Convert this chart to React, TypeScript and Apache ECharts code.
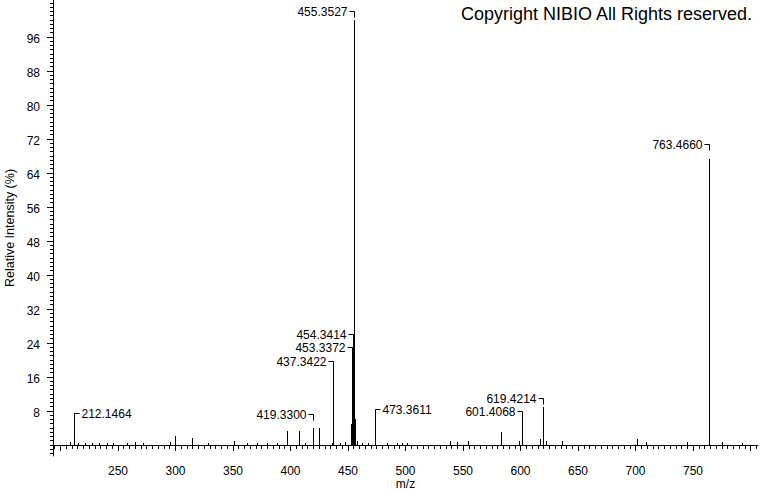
import { useEffect, useRef } from 'react';
import * as echarts from 'echarts';

// ---- Data ----
const peakMz = [
  208.3, 212.1464, 215.5, 221.3, 227.1, 233.7, 240.2, 245.9, 257.5, 264.8,
  272.0, 295.2, 299.6, 314.6, 328.5, 351.1, 361.9, 370.6, 379.3, 388.0,
  397.2, 407.7, 412.6, 419.33, 425.0, 435.8, 437.3422, 443.0, 447.4, 452.3,
  453.3372, 454.3414, 455.3527, 456.36, 457.4, 462.0, 467.7, 473.3611, 483.6, 492.3,
  496.7, 501.0, 538.7, 545.0, 554.6, 583.0, 598.7, 601.4068, 617.0, 619.4214,
  621.9, 635.8, 701.6, 709.5, 745.0, 763.466, 775.5, 792.6,
];
const peakIntensity = [
  0.6, 6.5, 0.4, 0.5, 0.5, 0.5, 0.5, 0.4, 0.4, 0.8,
  0.4, 0.7, 2.1, 1.7, 0.4, 0.9, 0.4, 0.5, 0.5, 0.5,
  3.4, 3.3, 0.4, 4.1, 4.1, 0.5, 18.6, 0.5, 0.7, 5.0,
  21.6, 24.8, 100, 6.0, 1.0, 0.4, 0.4, 7.0, 0.4, 0.5,
  0.5, 0.5, 1.0, 0.7, 0.9, 3.0, 1.0, 6.6, 1.5, 9.0,
  1.0, 1.0, 1.4, 0.8, 0.8, 67.2, 0.7, 0.5,
];
const labelledMz = [212.1464, 419.33, 437.3422, 453.3372, 454.3414, 455.3527, 473.3611, 601.4068, 619.4214, 763.466];
const labelTexts = ['212.1464', '419.3300', '437.3422', '453.3372', '454.3414', '455.3527', '473.3611', '601.4068', '619.4214', '763.4660'];
const xTickLabels = [250, 300, 350, 400, 450, 500, 550, 600, 650, 700, 750];
const yTickLabels = [8, 16, 24, 32, 40, 48, 56, 64, 72, 80, 88, 96];

// ---- Layout (label placement, in intensity units; +1 = text right of peak) ----
const labelLevel = [7.5, 7.3, 19.8, 23.1, 26.2, 102.1, 8.35, 8.0, 10.95, 70.8];
const labelSide = [1, -1, -1, -1, -1, -1, 1, -1, -1, -1];

const X_MIN = 193.5;
const X_MAX = 806.5;
const Y_MIN = -2.6;
const Y_MAX = 104.7;
const FONT = '"Liberation Sans", Arial, sans-serif';

export default function App() {
  const ref = useRef<HTMLDivElement>(null);

  useEffect(() => {
    if (!ref.current) return;
    const chart = echarts.init(ref.current, undefined, { renderer: 'svg' });

    const xMajor: number[] = [];
    for (let v = Math.ceil(X_MIN / 50) * 50; v <= X_MAX; v += 50) xMajor.push(v);
    const xMinor: number[] = [];
    for (let v = Math.ceil(X_MIN / 5) * 5; v <= X_MAX; v += 5) xMinor.push(v);
    const yMinor: number[] = [];
    for (let v = Math.ceil(Y_MIN); v <= Y_MAX; v += 1) yMinor.push(v);

    const peaks = peakMz.map((m, i) => [m, peakIntensity[i]]);
    const labels = labelledMz.map((m, i) => [m, peakIntensity[peakMz.indexOf(m)], labelLevel[i], labelSide[i]]);
    const baseline = [[Math.min(...peakMz), 0], [Math.max(...peakMz), 0]];

    const baseAxis = { min: X_MIN, max: X_MAX, type: 'value' as const };

    chart.setOption({
      animation: false,
      grid: { left: 53, right: 2, top: 0, bottom: 36, containLabel: false, outerBoundsMode: 'none' },
      xAxis: [
        {
          ...baseAxis,
          name: 'm/z',
          nameLocation: 'middle',
          nameGap: 22,
          nameMoveOverlap: false,
          nameTextStyle: { color: '#000', fontFamily: FONT, fontSize: 12 },
          axisLine: { show: true, lineStyle: { color: '#000', width: 1 } },
          axisTick: { show: true, length: 6, lineStyle: { color: '#000' }, customValues: xMajor },
          axisLabel: { color: '#000', fontFamily: FONT, fontSize: 12, margin: 9, customValues: xTickLabels },
          splitLine: { show: false },
        },
        {
          ...baseAxis,
          position: 'bottom',
          axisLine: { show: false },
          axisTick: { show: true, length: 4, lineStyle: { color: '#000' }, customValues: xMinor },
          axisLabel: { show: false },
          splitLine: { show: false },
        },
      ],
      yAxis: [
        {
          type: 'value',
          min: Y_MIN,
          max: Y_MAX,
          name: 'Relative Intensity (%)',
          nameLocation: 'middle',
          nameGap: 37,
          nameMoveOverlap: false,
          nameTextStyle: { color: '#000', fontFamily: FONT, fontSize: 12.5 },
          axisLine: { show: true, lineStyle: { color: '#000', width: 1 } },
          axisTick: { show: true, length: 6, lineStyle: { color: '#000' }, customValues: yTickLabels },
          axisLabel: {
            color: '#000',
            fontFamily: FONT,
            fontSize: 12,
            margin: 13,
            verticalAlign: 'top',
            lineHeight: 5,
            customValues: yTickLabels,
          },
          splitLine: { show: false },
        },
        {
          type: 'value',
          min: Y_MIN,
          max: Y_MAX,
          position: 'left',
          axisLine: { show: false },
          axisTick: { show: true, length: 3, lineStyle: { color: '#000' }, customValues: yMinor },
          axisLabel: { show: false },
          splitLine: { show: false },
        },
      ],
      graphic: [
        {
          type: 'text',
          right: 7,
          top: 5,
          style: { text: 'Copyright NIBIO All Rights reserved.', font: `18px ${FONT}`, fill: '#000' },
        },
      ],
      series: [
        {
          type: 'custom',
          name: 'baseline',
          xAxisIndex: 0,
          yAxisIndex: 0,
          data: baseline,
          clip: false,
          renderItem: (params: any, api: any) => {
            if (params.dataIndex !== 0) return null;
            const a = api.coord([baseline[0][0], 0]);
            const b = api.coord([baseline[1][0], 0]);
            const y = Math.round(a[1]) + 0.5;
            return {
              type: 'line',
              shape: { x1: Math.round(a[0]), y1: y, x2: Math.round(b[0]) + 1, y2: y },
              style: { stroke: '#000', lineWidth: 1 },
            };
          },
        },
        {
          type: 'custom',
          name: 'peaks',
          xAxisIndex: 0,
          yAxisIndex: 0,
          data: peaks,
          clip: false,
          renderItem: (params: any, api: any) => {
            const m = api.value(0);
            const v = api.value(1);
            const p0 = api.coord([m, 0]);
            const p1 = api.coord([m, v]);
            const x = Math.round(p0[0]) + 0.5;
            return {
              type: 'line',
              shape: { x1: x, y1: Math.round(p0[1]) + 0.5, x2: x, y2: Math.round(p1[1]) },
              style: { stroke: '#000', lineWidth: 1 },
            };
          },
        },
        {
          type: 'custom',
          name: 'labels',
          xAxisIndex: 0,
          yAxisIndex: 0,
          data: labels,
          clip: false,
          renderItem: (params: any, api: any) => {
            const m = api.value(0);
            const v = api.value(1);
            const lv = api.value(2);
            const side = api.value(3) > 0 ? 1 : -1;
            const peak = api.coord([m, v]);
            const lab = api.coord([m, lv]);
            const x = Math.round(peak[0]) + 0.5;
            const ly = Math.round(lab[1]) + 0.5;
            const dropEnd = Math.max(ly, Math.min(ly + 6, Math.round(peak[1])));
            return {
              type: 'group',
              children: [
                {
                  type: 'polyline',
                  shape: { points: [[x + side * 5, ly], [x, ly], [x, dropEnd]] },
                  style: { stroke: '#000', lineWidth: 1, fill: null },
                },
                {
                  type: 'text',
                  x: x + side * 7,
                  y: ly,
                  style: {
                    text: labelTexts[params.dataIndex],
                    align: side > 0 ? 'left' : 'right',
                    verticalAlign: 'middle',
                    font: `12px ${FONT}`,
                    fill: '#000',
                  },
                },
              ],
            };
          },
        },
      ],
    });

    return () => chart.dispose();
  }, []);

  return (
    <div
      ref={ref}
      style={{ position: 'fixed', left: 0, top: 0, width: 760, height: 492, background: '#fff' }}
    />
  );
}
